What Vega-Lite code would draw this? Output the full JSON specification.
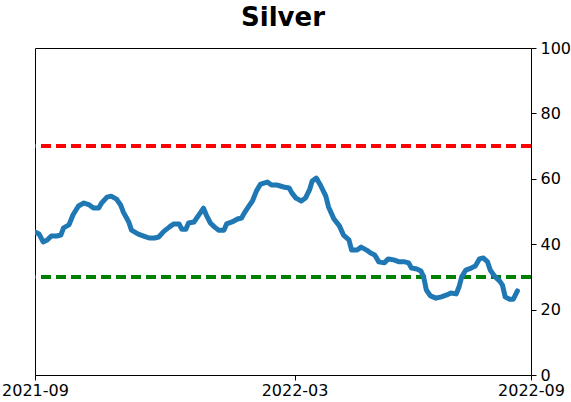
{
  "$schema": "https://vega.github.io/schema/vega-lite/v6.json",
  "autosize": {"type": "none"},
  "width": 496,
  "height": 327,
  "padding": {"left": 35, "top": 48, "right": 40, "bottom": 27},
  "background": "white",
  "title": {"text": "Silver", "fontSize": 26, "fontWeight": "bold", "font": "DejaVu Sans", "color": "black", "anchor": "middle", "offset": 9},
  "config": {
    "view": {"stroke": "black", "strokeWidth": 1},
    "axis": {"labelFont": "DejaVu Sans", "labelFontSize": 16, "labelColor": "black", "tickColor": "black", "domain": false, "grid": false, "tickSize": 5, "title": null}
  },
  "data": {"values": [
    {"date": "2021-09-01", "value": 43.7},
    {"date": "2021-09-04", "value": 43.1},
    {"date": "2021-09-07", "value": 40.7},
    {"date": "2021-09-10", "value": 41.3},
    {"date": "2021-09-13", "value": 42.5},
    {"date": "2021-09-17", "value": 42.5},
    {"date": "2021-09-20", "value": 42.8},
    {"date": "2021-09-22", "value": 45.0},
    {"date": "2021-09-26", "value": 45.9},
    {"date": "2021-09-29", "value": 49.0},
    {"date": "2021-10-03", "value": 51.7},
    {"date": "2021-10-07", "value": 52.6},
    {"date": "2021-10-11", "value": 52.0},
    {"date": "2021-10-14", "value": 51.1},
    {"date": "2021-10-18", "value": 51.1},
    {"date": "2021-10-20", "value": 52.6},
    {"date": "2021-10-24", "value": 54.4},
    {"date": "2021-10-27", "value": 54.7},
    {"date": "2021-10-31", "value": 53.8},
    {"date": "2021-11-03", "value": 52.0},
    {"date": "2021-11-05", "value": 49.8},
    {"date": "2021-11-09", "value": 46.8},
    {"date": "2021-11-11", "value": 44.3},
    {"date": "2021-11-16", "value": 43.1},
    {"date": "2021-11-20", "value": 42.5},
    {"date": "2021-11-24", "value": 41.9},
    {"date": "2021-11-28", "value": 41.9},
    {"date": "2021-12-01", "value": 42.2},
    {"date": "2021-12-05", "value": 44.0},
    {"date": "2021-12-09", "value": 45.3},
    {"date": "2021-12-12", "value": 46.2},
    {"date": "2021-12-16", "value": 46.2},
    {"date": "2021-12-18", "value": 44.6},
    {"date": "2021-12-21", "value": 44.6},
    {"date": "2021-12-23", "value": 46.5},
    {"date": "2021-12-27", "value": 46.8},
    {"date": "2021-12-31", "value": 49.2},
    {"date": "2022-01-03", "value": 51.0},
    {"date": "2022-01-05", "value": 49.0},
    {"date": "2022-01-08", "value": 46.5},
    {"date": "2022-01-11", "value": 45.3},
    {"date": "2022-01-14", "value": 44.3},
    {"date": "2022-01-18", "value": 44.3},
    {"date": "2022-01-20", "value": 46.2},
    {"date": "2022-01-24", "value": 46.8},
    {"date": "2022-01-28", "value": 47.7},
    {"date": "2022-01-31", "value": 48.0},
    {"date": "2022-02-02", "value": 49.5},
    {"date": "2022-02-05", "value": 51.4},
    {"date": "2022-02-08", "value": 53.2},
    {"date": "2022-02-11", "value": 56.3},
    {"date": "2022-02-14", "value": 58.4},
    {"date": "2022-02-19", "value": 59.0},
    {"date": "2022-02-22", "value": 58.1},
    {"date": "2022-02-26", "value": 58.1},
    {"date": "2022-03-03", "value": 57.5},
    {"date": "2022-03-07", "value": 57.2},
    {"date": "2022-03-09", "value": 55.7},
    {"date": "2022-03-12", "value": 54.1},
    {"date": "2022-03-16", "value": 53.2},
    {"date": "2022-03-19", "value": 54.1},
    {"date": "2022-03-22", "value": 56.6},
    {"date": "2022-03-24", "value": 59.3},
    {"date": "2022-03-27", "value": 60.2},
    {"date": "2022-03-30", "value": 58.1},
    {"date": "2022-04-03", "value": 54.7},
    {"date": "2022-04-05", "value": 51.4},
    {"date": "2022-04-09", "value": 47.7},
    {"date": "2022-04-13", "value": 45.6},
    {"date": "2022-04-16", "value": 42.8},
    {"date": "2022-04-20", "value": 41.3},
    {"date": "2022-04-22", "value": 38.2},
    {"date": "2022-04-26", "value": 38.2},
    {"date": "2022-04-29", "value": 39.1},
    {"date": "2022-05-03", "value": 38.2},
    {"date": "2022-05-06", "value": 37.3},
    {"date": "2022-05-09", "value": 36.7},
    {"date": "2022-05-12", "value": 34.6},
    {"date": "2022-05-16", "value": 34.3},
    {"date": "2022-05-19", "value": 35.5},
    {"date": "2022-05-23", "value": 35.2},
    {"date": "2022-05-27", "value": 34.6},
    {"date": "2022-05-31", "value": 34.6},
    {"date": "2022-06-03", "value": 34.3},
    {"date": "2022-06-05", "value": 32.7},
    {"date": "2022-06-09", "value": 32.4},
    {"date": "2022-06-12", "value": 31.8},
    {"date": "2022-06-14", "value": 30.0},
    {"date": "2022-06-16", "value": 26.0},
    {"date": "2022-06-19", "value": 24.2},
    {"date": "2022-06-23", "value": 23.5},
    {"date": "2022-06-27", "value": 23.9},
    {"date": "2022-07-01", "value": 24.5},
    {"date": "2022-07-04", "value": 25.1},
    {"date": "2022-07-08", "value": 24.8},
    {"date": "2022-07-10", "value": 26.9},
    {"date": "2022-07-12", "value": 30.0},
    {"date": "2022-07-15", "value": 32.1},
    {"date": "2022-07-19", "value": 32.7},
    {"date": "2022-07-22", "value": 33.3},
    {"date": "2022-07-25", "value": 35.5},
    {"date": "2022-07-28", "value": 35.8},
    {"date": "2022-07-31", "value": 34.6},
    {"date": "2022-08-02", "value": 32.1},
    {"date": "2022-08-05", "value": 30.3},
    {"date": "2022-08-09", "value": 28.7},
    {"date": "2022-08-11", "value": 27.5},
    {"date": "2022-08-13", "value": 23.9},
    {"date": "2022-08-16", "value": 23.2},
    {"date": "2022-08-19", "value": 23.2},
    {"date": "2022-08-22", "value": 25.7}
  ]},
  "encoding": {
    "x": {
      "field": "date", "type": "temporal",
      "scale": {"type": "utc", "domain": [{"year": 2021, "month": 9, "date": 1, "utc": true}, {"year": 2022, "month": 9, "date": 1, "utc": true}]},
      "axis": {"orient": "bottom", "format": "%Y-%m", "labelPadding": 2, "labelOverlap": false, "labelFlush": false,
        "values": [{"year": 2021, "month": 9, "date": 1, "utc": true}, {"year": 2022, "month": 3, "date": 11, "utc": true}, {"year": 2022, "month": 9, "date": 1, "utc": true}]}
    },
    "y": {
      "field": "value", "type": "quantitative",
      "scale": {"domain": [0, 100], "nice": false, "zero": false},
      "axis": {"orient": "right", "values": [0, 20, 40, 60, 80, 100], "labelPadding": 4}
    }
  },
  "layer": [
    {"mark": {"type": "rule", "color": "#ff0000", "strokeWidth": 2.5, "strokeDash": [10, 5]}, "encoding": {"x": null, "y": {"datum": 70}}},
    {"mark": {"type": "rule", "color": "#008000", "strokeWidth": 2.5, "strokeDash": [10, 5]}, "encoding": {"x": null, "y": {"datum": 30}}},
    {"mark": {"type": "line", "color": "#1f77b4", "strokeWidth": 5, "strokeJoin": "round", "strokeCap": "round", "clip": true}}
  ]
}
